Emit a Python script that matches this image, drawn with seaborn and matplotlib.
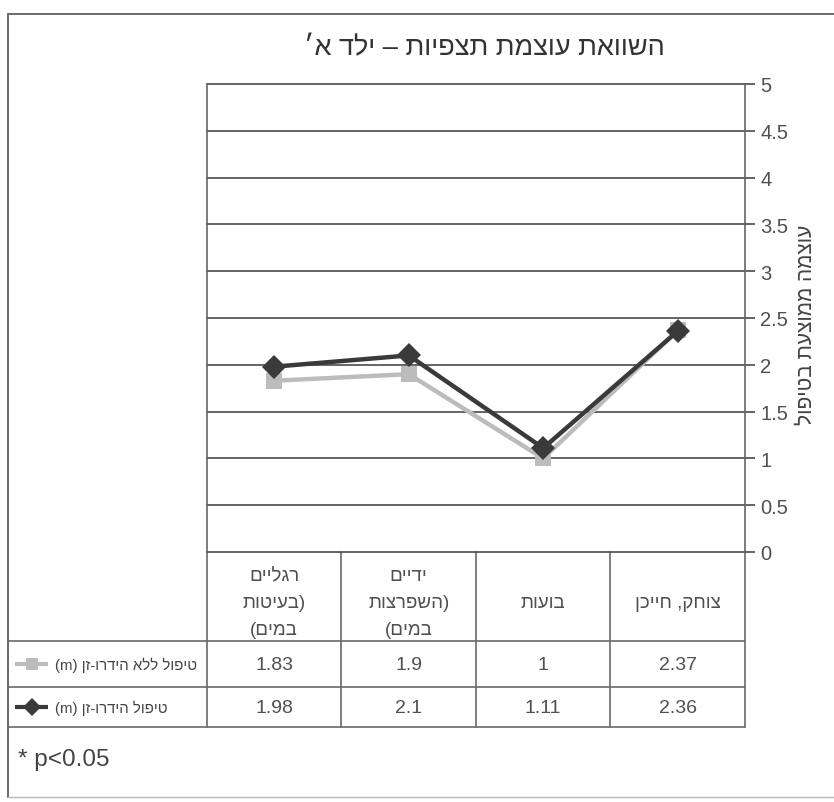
import matplotlib
matplotlib.use("Agg")
import matplotlib.pyplot as plt
import seaborn as sns
import pandas as pd

# ---- data -------------------------------------------------------------
categories = ["רגליים (בעיטות במים)", "ידיים (השפרצות במים)", "בועות", "צוחק, חייכן"]
category_lines = [["רגליים", "(בעיטות", "במים)"],
                  ["ידיים", "(השפרצות", "במים)"],
                  ["בועות"],
                  ["צוחק, חייכן"]]
series_names = ["טיפול ללא הידרו-זן (m)", "טיפול הידרו-זן (m)"]
without_hydro = [1.83, 1.9, 1.0, 2.37]
with_hydro = [1.98, 2.1, 1.11, 2.36]
y_ticks = [0, 0.5, 1, 1.5, 2, 2.5, 3, 3.5, 4, 4.5, 5]
y_tick_labels = ["0", "0.5", "1", "1.5", "2", "2.5", "3", "3.5", "4", "4.5", "5"]
title_text = "השוואת עוצמת תצפיות – ילד א׳"
y_label_text = "עוצמה ממוצעת בטיפול"
footnote_text = "* p<0.05"

series_colors = ["#bcbcbc", "#3a3a3a"]
series_markers = ["s", "D"]


def rtl(s):
    """Put a Hebrew string into left-to-right display order."""
    out = s[::-1].translate(str.maketrans("()", ")("))
    # restore Latin / digit runs to their own reading order
    res, run = [], []
    for ch in out:
        if ch.isascii() and ch.isalnum() or (run and ch == "."):
            run.append(ch)
        else:
            if run:
                res.append("".join(run[::-1]))
                run = []
            res.append(ch)
    if run:
        res.append("".join(run[::-1]))
    return "".join(res)


sns.set_theme(style="white")
plt.rcParams["font.family"] = ["Liberation Sans", "DejaVu Sans"]

W, H = 834, 803
fig = plt.figure(figsize=(W / 100, H / 100), dpi=100)
fig.patch.set_facecolor("white")


def fx(px):
    return px / W


def fy(py):
    return 1 - py / H


# plot area geometry (pixels)
PL, PR, PT, PB = 207, 745, 85, 553
ROWS = [553, 642, 688, 728]
GRID = "#4a4a4a"
TXT = "#505050"

# ---- line chart --------------------------------------------------------
ax = fig.add_axes([fx(PL), fy(PB), fx(PR) - fx(PL), fy(PT) - fy(PB)])
n = len(categories)
df = pd.DataFrame({
    "pos": list(range(n)) * 2,
    "value": without_hydro + with_hydro,
    "series": [series_names[0]] * n + [series_names[1]] * n,
})
sns.lineplot(data=df, x="pos", y="value", hue="series", style="series",
             hue_order=series_names, style_order=series_names,
             palette=dict(zip(series_names, series_colors)),
             markers=dict(zip(series_names, series_markers)),
             dashes=False, linewidth=3.2, markersize=12, markeredgewidth=0,
             legend=False, ax=ax)

ax.set_xlim(-0.5, n - 0.5)
ax.set_ylim(0, 5)
ax.set_xticks([])
ax.set_xlabel("")
ax.set_ylabel("")
ax.yaxis.tick_right()
ax.set_yticks(y_ticks)
ax.set_yticklabels(y_tick_labels)
ax.tick_params(axis="y", which="both", right=True, left=False, direction="out",
               length=7, width=1.2, color=GRID, pad=4, labelsize=14.5,
               labelcolor=TXT)
for yv in y_ticks:
    ax.axhline(yv, color=GRID, lw=1.2, zorder=0.5, clip_on=False)
for side in ["top", "bottom"]:
    ax.spines[side].set_visible(False)
for side in ["left", "right"]:
    ax.spines[side].set_color("#666666")
    ax.spines[side].set_linewidth(1.2)
ax.set_facecolor("none")

# ---- table, frame and texts (pixel coordinates) ------------------------
tab = fig.add_axes([0, 0, 1, 1], zorder=-1)
tab.set_xlim(0, W)
tab.set_ylim(H, 0)
tab.axis("off")

FRAME = "#6a6a6a"
# outer frame
tab.plot([8, W], [15, 15], color=FRAME, lw=1.4)
tab.plot([8, 8], [15, 798], color=FRAME, lw=1.4)
tab.plot([8, W], [798, 798], color="#b8b8b8", lw=1.0)

colw = (PR - PL) / n
for r in ROWS[1:]:
    tab.plot([8, PR], [r, r], color=FRAME, lw=1.2)
for i in range(n + 1):
    x = PL + i * colw
    tab.plot([x, x], [ROWS[0], ROWS[-1]], color=FRAME, lw=1.2)

# category headers
for i, lines in enumerate(category_lines):
    cx = PL + (i + 0.5) * colw
    tab.text(cx, (ROWS[0] + ROWS[1]) / 2 + 6, "\n".join(rtl(l) for l in lines),
             ha="center", va="center", multialignment="center",
             fontsize=13.5, color=TXT, linespacing=1.75)

# value rows with legend keys
for k, vals in enumerate([without_hydro, with_hydro]):
    cy = (ROWS[k + 1] + ROWS[k + 2]) / 2
    for i, v in enumerate(vals):
        cx = PL + (i + 0.5) * colw
        tab.text(cx, cy + 1, f"{v:g}", ha="center", va="center",
                 fontsize=14, color=TXT)
    tab.plot([15, 48], [cy, cy], color=series_colors[k], lw=3,
             solid_capstyle="butt")
    tab.plot([32], [cy], marker=series_markers[k], color=series_colors[k],
             markersize=8 if k == 0 else 9, markeredgewidth=0)
    tab.text(55, cy, rtl(series_names[k]), ha="left", va="center",
             fontsize=10.8, color="#444444")

# title, axis title, footnote
tab.text(484, 48, rtl(title_text), ha="center", va="center", fontsize=19.5,
         color="#333333")
tab.text(806, 325, rtl(y_label_text), ha="center", va="center", rotation=90,
         fontsize=15, color="#444444")
tab.text(18, 760, footnote_text, ha="left", va="center", fontsize=17.5,
         color="#444444")

fig.savefig("out.png", dpi=100, facecolor="white")
